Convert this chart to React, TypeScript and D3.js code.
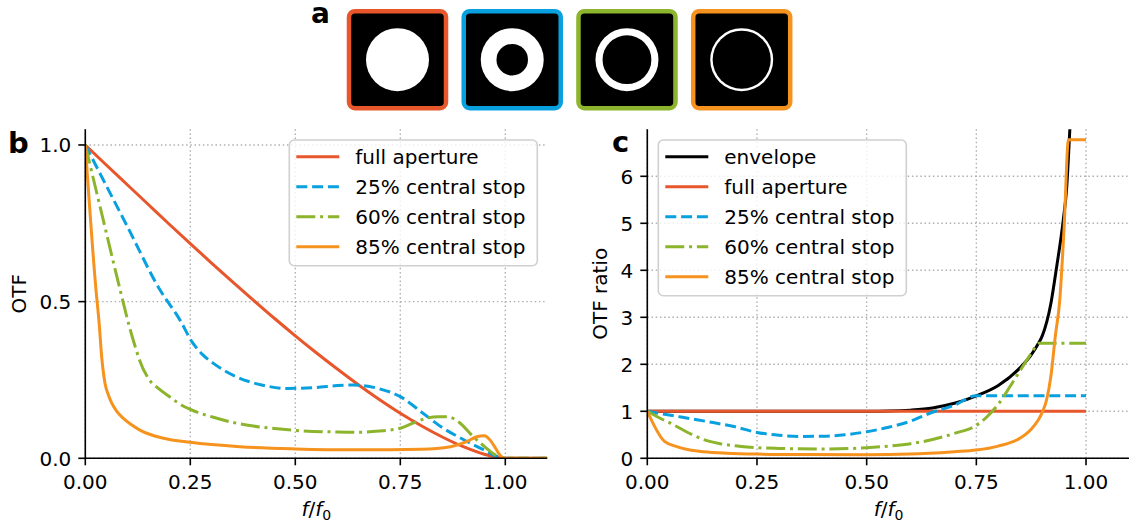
import React from "react";
import * as d3 from "d3";

const W = 1129;
const H = 527;
const FONT = "DejaVu Sans, Verdana, sans-serif";

const seriesNames = ["full aperture", "25% central stop", "60% central stop", "85% central stop"];
const seriesColors = ["#e8562c", "#09a0e0", "#8cb42c", "#f6921e"];
const seriesDash = [null, "11 4.8", "19 4.8 3 4.8", null];
const stopAreas = [0, 0.25, 0.6, 0.85];

// panel b: OTF vs f/f0
const nuFull = [0, 0.05, 0.1, 0.15, 0.2, 0.25, 0.3, 0.35, 0.4, 0.45, 0.5, 0.55, 0.6, 0.65, 0.7, 0.75, 0.8, 0.85, 0.9, 0.95, 1.0, 1.1];
const otfFull = [1, 0.936, 0.873, 0.81, 0.747, 0.685, 0.624, 0.564, 0.505, 0.447, 0.391, 0.337, 0.285, 0.235, 0.188, 0.144, 0.104, 0.068, 0.037, 0.013, 0, 0];

const nu25 = [0, 0.1, 0.178, 0.2255, 0.255, 0.28, 0.305, 0.36, 0.42, 0.48, 0.55, 0.6, 0.64, 0.7, 0.75, 0.8, 0.85, 0.9, 0.95, 0.98, 1.0, 1.1];
const otf25 = [1, 0.74, 0.537, 0.441, 0.37, 0.33, 0.303, 0.26, 0.234, 0.223, 0.226, 0.232, 0.234, 0.222, 0.197, 0.148, 0.098, 0.06, 0.026, 0.006, 0, 0];

const nu60 = [0, 0.05, 0.083, 0.106, 0.118, 0.129, 0.15, 0.174, 0.2, 0.233, 0.25, 0.305, 0.36, 0.4, 0.45, 0.5, 0.6, 0.65, 0.7, 0.75, 0.78, 0.81, 0.84, 0.865, 0.89, 0.92, 0.95, 0.98, 1.0, 1.1];
const otf60 = [1, 0.72, 0.537, 0.415, 0.36, 0.314, 0.255, 0.223, 0.197, 0.167, 0.156, 0.131, 0.112, 0.103, 0.095, 0.089, 0.084, 0.083, 0.087, 0.096, 0.112, 0.127, 0.133, 0.132, 0.115, 0.074, 0.038, 0.008, 0, 0];

const nu85 = [0, 0.0255, 0.033, 0.039, 0.047, 0.055, 0.063, 0.075, 0.09, 0.11, 0.13, 0.186, 0.25, 0.368, 0.5, 0.65, 0.8, 0.87, 0.908, 0.932, 0.95, 0.964, 0.975, 0.984, 0.993, 1.0, 1.1];
const otf85 = [1, 0.537, 0.431, 0.324, 0.239, 0.202, 0.176, 0.15, 0.128, 0.107, 0.09, 0.064, 0.051, 0.037, 0.03, 0.027, 0.029, 0.037, 0.053, 0.069, 0.072, 0.058, 0.036, 0.016, 0.003, 0, 0];

// panel c: OTF ratio vs f/f0
const nuEnv = [0, 0.5, 0.55, 0.6, 0.65, 0.7, 0.75, 0.8, 0.85, 0.875, 0.89, 0.9, 0.92, 0.933, 0.948, 0.956, 0.963, 0.97];
const ratioEnv = [1, 1, 1.005, 1.025, 1.07, 1.17, 1.33, 1.55, 1.93, 2.2, 2.42, 2.6, 3.3, 4.07, 5.06, 5.77, 6.98, 8.3];

const nuRFull = [0, 1.0];
const ratioFull = [1, 1];

const nuR25 = [0, 0.05, 0.1, 0.15, 0.2, 0.25, 0.3, 0.35, 0.4, 0.45, 0.5, 0.55, 0.6, 0.65, 0.7, 0.75, 0.8, 0.9, 1.0];
const ratio25 = [1, 0.92, 0.84, 0.76, 0.67, 0.55, 0.49, 0.465, 0.47, 0.5, 0.565, 0.66, 0.79, 0.98, 1.13, 1.33, 1.33, 1.33, 1.33];

const nuR60 = [0, 0.036, 0.05, 0.09, 0.1125, 0.128, 0.166, 0.2, 0.25, 0.3, 0.4, 0.5, 0.55, 0.6, 0.65, 0.7, 0.75, 0.775, 0.8, 0.825, 0.85, 0.875, 0.893, 1.0];
const ratio60 = [1, 0.82, 0.76, 0.56, 0.46, 0.4, 0.31, 0.265, 0.226, 0.21, 0.198, 0.225, 0.26, 0.31, 0.4, 0.53, 0.7, 0.89, 1.15, 1.5, 1.87, 2.23, 2.45, 2.45];

const nuR85 = [0, 0.04, 0.067, 0.1, 0.128, 0.18, 0.25, 0.35, 0.5, 0.6, 0.7, 0.75, 0.8, 0.85, 0.875, 0.89, 0.9, 0.91, 0.92, 0.93, 0.94, 0.95, 0.96, 1.0];
const ratio85 = [1, 0.353, 0.25, 0.17, 0.14, 0.11, 0.09, 0.08, 0.078, 0.09, 0.14, 0.175, 0.26, 0.43, 0.62, 0.8, 0.97, 1.24, 1.75, 2.6, 3.35, 4.9, 6.78, 6.78];

const xTickVals = [0, 0.25, 0.5, 0.75, 1.0];
const yTicksB = [0, 0.5, 1.0];
const yTicksC = [0, 1, 2, 3, 4, 5, 6];

const GRID = "#b0b0b0";

function XLabel({ x, y }) {
  return (
    <text x={x} y={y} textAnchor="middle" fontSize={20} fontFamily={FONT}>
      <tspan fontStyle="italic">f</tspan>
      <tspan>/</tspan>
      <tspan fontStyle="italic">f</tspan>
      <tspan fontSize={14} dy={4}>0</tspan>
    </text>
  );
}

function Panel({ id, x, y, yTicks, yFmt, yLabel, yLabelX, lines, legend, legendX }) {
  const [x0, x1] = x.range();
  const [y0, y1] = y.range();
  const path = d3
    .line()
    .x((d) => x(d[0]))
    .y((d) => y(d[1]))
    .curve(d3.curveMonotoneX);
  const rowTop = 156.7;
  const rowStep = 30;
  const boxTop = rowTop - 16.7;
  const boxH = rowStep * (legend.length - 1) + 19 + 16.7;
  return (
    <g>
      <defs>
        <clipPath id={id}>
          <rect x={x0} y={y1} width={x1 - x0} height={y0 - y1} />
        </clipPath>
      </defs>
      {xTickVals.map((t) => (
        <line key={"gx" + t} x1={x(t)} x2={x(t)} y1={y0} y2={y1} stroke={GRID} strokeWidth={1.4} strokeDasharray="1.5 2.7" />
      ))}
      {yTicks.map((t) => (
        <line key={"gy" + t} x1={x0} x2={x1} y1={y(t)} y2={y(t)} stroke={GRID} strokeWidth={1.4} strokeDasharray="1.5 2.7" />
      ))}
      <g clipPath={`url(#${id})`}>
        {lines.map((s, i) => (
          <path
            key={i}
            d={path(d3.zip(s.nu, s.v))}
            fill="none"
            stroke={s.color}
            strokeWidth={3}
            strokeDasharray={s.dash || undefined}
            strokeLinejoin="round"
          />
        ))}
      </g>
      {/* spines */}
      <line x1={x0} x2={x0} y1={y0} y2={y1} stroke="#000" strokeWidth={1.6} />
      <line x1={x0} x2={x1} y1={y0} y2={y0} stroke="#000" strokeWidth={1.6} />
      {xTickVals.map((t) => (
        <g key={"tx" + t}>
          <line x1={x(t)} x2={x(t)} y1={y0} y2={y0 + 7} stroke="#000" strokeWidth={1.6} />
          <text x={x(t)} y={y0 + 31} textAnchor="middle" fontSize={20} fontFamily={FONT}>
            {d3.format(".2f")(t)}
          </text>
        </g>
      ))}
      {yTicks.map((t) => (
        <g key={"ty" + t}>
          <line x1={x0 - 7} x2={x0} y1={y(t)} y2={y(t)} stroke="#000" strokeWidth={1.6} />
          <text x={x0 - 14} y={y(t)} dy="0.36em" textAnchor="end" fontSize={20} fontFamily={FONT}>
            {yFmt(t)}
          </text>
        </g>
      ))}
      <XLabel x={(x0 + x1) / 2} y={516} />
      <text
        x={yLabelX}
        y={(y0 + y1) / 2}
        dy="0.36em"
        textAnchor="middle"
        fontSize={20}
        fontFamily={FONT}
        transform={`rotate(-90 ${yLabelX} ${(y0 + y1) / 2})`}
      >
        {yLabel}
      </text>
      {/* legend */}
      <rect
        x={legendX}
        y={boxTop}
        width={248}
        height={boxH}
        rx={5}
        fill="#fff"
        fillOpacity={0.8}
        stroke="#d0d0d0"
        strokeWidth={1.6}
      />
      {legend.map((s, i) => {
        const ry = rowTop + i * rowStep;
        return (
          <g key={"lg" + i}>
            <line x1={legendX + 7} x2={legendX + 50} y1={ry} y2={ry} stroke={s.color} strokeWidth={3} strokeDasharray={s.dash || undefined} />
            <text x={legendX + 66} y={ry} dy="0.36em" fontSize={20} fontFamily={FONT}>
              {s.name}
            </text>
          </g>
        );
      })}
    </g>
  );
}

function Icons() {
  const pos = d3.scalePoint().domain(seriesNames).range([397.5, 741.7]);
  const cy = 59.7;
  const r = 31.5;
  const side = 97;
  return (
    <g>
      {seriesNames.map((n, i) => {
        const cx = pos(n);
        return (
          <g key={n}>
            <rect x={cx - side / 2} y={cy - side / 2} width={side} height={side} rx={6} fill="#000" stroke={seriesColors[i]} strokeWidth={4.5} />
            <circle cx={cx} cy={cy} r={r} fill="#fff" />
            {stopAreas[i] > 0 && <circle cx={cx} cy={cy} r={r * Math.sqrt(stopAreas[i])} fill="#000" />}
          </g>
        );
      })}
    </g>
  );
}

export default function App() {
  const xB = d3.scaleLinear().domain([0, 1.1]).range([85.3, 547.3]);
  const yB = d3.scaleLinear().domain([0, 1.05]).range([458.3, 129.3]);
  const xC = d3.scaleLinear().domain([0, 1.1]).range([647.3, 1129.9]);
  const yC = d3.scaleLinear().domain([0, 7]).range([458.3, 129.3]);

  const mk = (i, nu, v) => ({ name: seriesNames[i], color: seriesColors[i], dash: seriesDash[i], nu, v });
  const linesB = [mk(0, nuFull, otfFull), mk(1, nu25, otf25), mk(2, nu60, otf60), mk(3, nu85, otf85)];
  const envelope = { name: "envelope", color: "#000", dash: null, nu: nuEnv, v: ratioEnv };
  const linesC = [envelope, mk(0, nuRFull, ratioFull), mk(1, nuR25, ratio25), mk(2, nuR60, ratio60), mk(3, nuR85, ratio85)];

  return (
    <svg width={W} height={H} style={{ position: "absolute", left: 0, top: 0, background: "#fff" }}>
      <rect width={W} height={H} fill="#fff" />
      <Icons />
      <Panel
        id="clipB"
        x={xB}
        y={yB}
        yTicks={yTicksB}
        yFmt={d3.format(".1f")}
        yLabel="OTF"
        yLabelX={19}
        lines={linesB}
        legend={linesB}
        legendX={289.3}
      />
      <Panel
        id="clipC"
        x={xC}
        y={yC}
        yTicks={yTicksC}
        yFmt={d3.format("d")}
        yLabel="OTF ratio"
        yLabelX={600}
        lines={linesC}
        legend={linesC}
        legendX={658.3}
      />
      <text x={311} y={23} fontSize={28} fontWeight="bold" fontFamily={FONT}>a</text>
      <text x={8} y={152.5} fontSize={29} fontWeight="bold" fontFamily={FONT}>b</text>
      <text x={612} y={152} fontSize={29} fontWeight="bold" fontFamily={FONT}>c</text>
    </svg>
  );
}
